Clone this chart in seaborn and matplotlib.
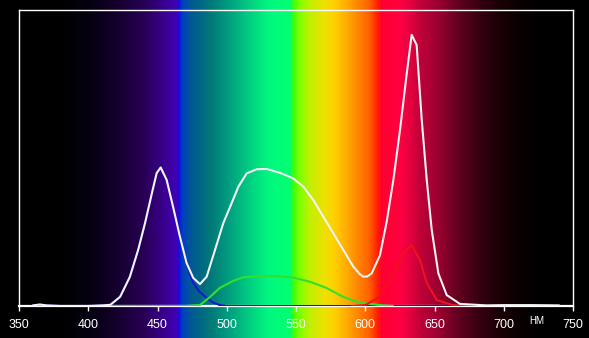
import numpy as np
import pandas as pd
import matplotlib
matplotlib.use("Agg")
import matplotlib.pyplot as plt
import seaborn as sns
from matplotlib.colors import LinearSegmentedColormap, to_rgb

sns.set_theme(style="white")
plt.rcParams['font.family'] = ['Liberation Sans', 'DejaVu Sans']

# ---- data ----
white_wl = [360, 365, 370, 380, 400, 410, 416, 423, 430, 436, 441, 446, 449.4, 452.3, 456.6,
            461.2, 466.2, 471, 475.8, 480.7, 485.5, 491.5, 497.5, 503.6, 508.4, 514.4, 521.6,
            528.8, 538.4, 548, 555.3, 562.5, 569.7, 577, 584.2, 591.4, 596, 598.6, 601.5,
            604.6, 610.6, 615.5, 620.3, 625.1, 630, 633.5, 637.1, 640.8, 644.4, 648, 652.8,
            658.8, 668.4, 687.7, 700, 720, 740]
white_val = [0.002, 0.005, 0.002, 0.0, 0.0, 0.002, 0.004, 0.031, 0.098, 0.189, 0.280, 0.382,
             0.449, 0.468, 0.426, 0.336, 0.234, 0.145, 0.095, 0.074, 0.099, 0.189, 0.280,
             0.348, 0.403, 0.448, 0.462, 0.463, 0.450, 0.431, 0.403, 0.358, 0.302, 0.245,
             0.189, 0.133, 0.108, 0.099, 0.100, 0.110, 0.171, 0.285, 0.426, 0.595, 0.787,
             0.916, 0.882, 0.628, 0.426, 0.257, 0.110, 0.037, 0.007, 0.002, 0.003, 0.003,
             0.002]

blue_wl = [360, 365, 370, 380, 400, 410, 416, 423, 430, 436, 441, 446, 449.4, 452.3, 456.6,
           461.2, 466.2, 471, 475.8, 480, 485.5, 490, 495, 500, 600, 690]
blue_val = [0.002, 0.005, 0.002, 0.0, 0.0, 0.002, 0.004, 0.031, 0.098, 0.189, 0.280, 0.382,
            0.449, 0.468, 0.426, 0.336, 0.234, 0.140, 0.078, 0.050, 0.027, 0.012, 0.003,
            0.0, 0.0, 0.0]

green_wl = [415, 470, 480.7, 488, 495, 504.7, 512, 524, 536, 548, 560, 572, 584, 596, 610.6, 620]
green_val = [0.0, 0.0, 0.003, 0.031, 0.061, 0.085, 0.097, 0.101, 0.101, 0.096, 0.082, 0.061,
             0.031, 0.011, 0.003, 0.0]

red_wl = [590, 600, 610.6, 620.3, 627.5, 633.5, 639.5, 644.4, 651.6, 663.4, 675]
red_val = [0.0, 0.003, 0.031, 0.111, 0.179, 0.206, 0.155, 0.078, 0.020, 0.003, 0.0]

xticks = [350, 400, 450, 500, 550, 600, 650, 700, 750]
unit_label = "НМ"

# ---- spectrum background stops ----
stops = [(336, "#000000"), (380, "#000000"), (400, "#060010"), (420, "#14002c"),
         (440, "#280055"), (455, "#3a0090"), (464, "#4200b8"), (465.5, "#1010e0"),
         (468, "#0040c0"), (475, "#005a90"), (488, "#007878"), (502, "#00a080"),
         (517, "#00d080"), (530, "#00f880"), (546, "#00ff70"), (548, "#40ff00"),
         (553, "#80ff00"), (560, "#c0f000"), (571, "#f0e000"), (578, "#ffd000"),
         (589, "#ffa000"), (603, "#ff6000"), (609, "#ff2000"), (612, "#ff0030"),
         (625, "#ff0040"), (632, "#e80040"), (640, "#c00038"), (654, "#980030"),
         (668, "#600020"), (683, "#350010"), (697, "#1a0005"), (712, "#0a0000"),
         (726, "#000000"), (762, "#000000")]
lo, hi = stops[0][0], stops[-1][0]
cmap = LinearSegmentedColormap.from_list(
    "spec", [((w - lo) / (hi - lo), to_rgb(c)) for w, c in stops], N=1024)

W, H, DPI = 589, 338, 100
fig = plt.figure(figsize=(W / DPI, H / DPI), dpi=DPI)
fig.patch.set_facecolor("black")

# pixel geometry of main axes
x0, x1, ytop, ybot = 19, 573, 10, 306
px_per_nm = (x1 - x0) / 400.0
lam_left = 350 - x0 / px_per_nm
lam_right = 750 + (W - x1) / px_per_nm

bg = fig.add_axes([0, 0, 1, 1], zorder=0)
grad = np.linspace(lam_left, lam_right, 1200)[None, :]
bg.imshow((grad - lo) / (hi - lo), aspect="auto", cmap=cmap, vmin=0, vmax=1,
          extent=[lam_left, lam_right, 0, 1], interpolation="bilinear")
bg.set_xlim(lam_left, lam_right)
bg.set_ylim(0, 1)
bg.axis("off")

ax = fig.add_axes([x0 / W, (H - ybot) / H, (x1 - x0) / W, (ybot - ytop) / H], zorder=1)
ax.patch.set_alpha(0)

lw = 1.5
sns.lineplot(x=blue_wl, y=blue_val, color="#1414d8", lw=lw, ax=ax, zorder=3)
sns.lineplot(x=green_wl, y=green_val, color="#30e030", lw=lw, ax=ax, zorder=3)
sns.lineplot(x=red_wl, y=red_val, color="#f01020", lw=lw, ax=ax, zorder=3)
sns.lineplot(x=white_wl, y=white_val, color="#f4f4f4", lw=lw, ax=ax, zorder=4)

ax.set_xlim(350, 750)
ax.set_ylim(0, 1)
ax.set_xticks(xticks)
ax.set_xticklabels([str(t) for t in xticks])
ax.set_yticks([])
ax.tick_params(axis="x", direction="out", length=3.5, width=1, colors="white",
               labelsize=9, pad=6, bottom=True)
for s in ["top", "left", "right"]:
    ax.spines[s].set_color("white")
    ax.spines[s].set_linewidth(1.0)
ax.spines["bottom"].set_color("white")
ax.spines["bottom"].set_linewidth(1.6)
ax.spines["bottom"].set_zorder(2)
ax.set_xlabel("")
ax.set_ylabel("")

ax.text(724, -0.05, unit_label, color="white", fontsize=7, ha="center", va="center",
        transform=ax.get_xaxis_transform(), clip_on=False)

fig.savefig("out.png", dpi=DPI, facecolor="black")
